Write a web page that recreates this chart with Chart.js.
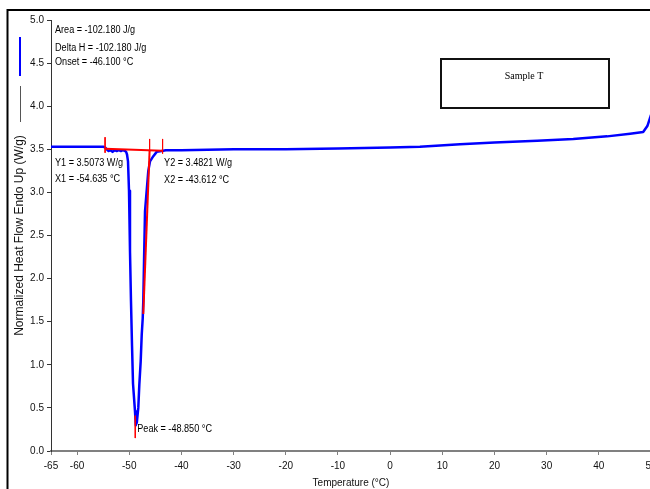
<!DOCTYPE html>
<html><head><meta charset="utf-8">
<script src="https://cdn.jsdelivr.net/npm/chart.js@4/dist/chart.umd.min.js"></script>
<style>
html,body{margin:0;padding:0;overflow:hidden;background:#fff;width:650px;height:489px}
#wrap{position:absolute;left:0;top:0;width:670px;height:489px}
</style></head>
<body><div id="wrap"><canvas id="c"></canvas></div>
<script>
// ---- data ----
const temps = [-65, -60, -56, -55, -54.6, -54.3, -54.0, -53.6, -53.2, -52.8, -52.4, -52.0, -51.6, -51.2, -50.8, -50.6, -50.43, -50.24, -50.05, -49.86, -49.67, -49.47, -49.28, -48.9, -48.75, -48.55, -48.27, -48.07, -47.81, -47.61, -47.42, -47.31, -47.17, -46.98, -46.35, -46.02, -45.39, -44.74, -43.78, -43.0, -40, -30, -20, -10, 0, 5.7, 13.4, 20, 28.2, 35.1, 41.6, 46, 48.5, 49.3, 49.8, 50];
const heatFlow = [3.53, 3.53, 3.53, 3.53, 3.52, 3.50, 3.48, 3.49, 3.47, 3.49, 3.48, 3.49, 3.48, 3.49, 3.48, 3.47, 3.44, 3.36, 3.02, 2.32, 1.74, 1.22, 0.78, 0.46, 0.30, 0.33, 0.50, 0.77, 1.04, 1.35, 1.54, 1.74, 2.20, 2.78, 3.25, 3.36, 3.42, 3.47, 3.48, 3.49, 3.49, 3.50, 3.50, 3.51, 3.52, 3.53, 3.56, 3.58, 3.60, 3.62, 3.65, 3.68, 3.70, 3.77, 3.86, 3.90];
const xTickValues = [-65, -60, -50, -40, -30, -20, -10, 0, 10, 20, 30, 40, 50];
const yTickValues = [0, 0.5, 1.0, 1.5, 2.0, 2.5, 3.0, 3.5, 4.0, 4.5, 5.0];
const X1 = -54.635, Y1 = 3.5073, X2 = -43.612, Y2 = 3.4821;
const onsetT = -46.100, peakT = -48.850;
const tangentT = [-46.1, -47.31];
const tangentV = [3.49, 1.59];
const markerX1V = [3.64, 3.46];
const markerX2V = [3.62, 3.45];
const markerOnsetV = [3.62, 3.48];
const markerPeakV = [0.41, 0.15];
const infoLines = ['Area = -102.180 J/g', 'Delta H = -102.180 J/g', 'Onset = -46.100 \u00B0C'];
const sampleLabel = 'Sample T';

const pts = (xs, ys) => xs.map((x, i) => ({x: x, y: ys[i]}));
const red = '#ff0000';
const FONT = '"Liberation Sans", Arial, sans-serif';

function narrowText(ctx, txt, x, y) {
  ctx.save();
  ctx.translate(x, y);
  ctx.scale(0.91, 1);
  ctx.fillText(txt, 0, 0);
  ctx.restore();
}

const decor = {
  id: 'decor',
  afterDraw(chart) {
    const ctx = chart.ctx, xs = chart.scales.x, ys = chart.scales.y;
    ctx.save();
    // outer frame
    ctx.strokeStyle = '#000'; ctx.lineWidth = 2;
    ctx.beginPath(); ctx.moveTo(7.5, 700); ctx.lineTo(7.5, 10); ctx.lineTo(700, 10); ctx.stroke();
    // legend marks
    ctx.strokeStyle = '#0000ff'; ctx.lineWidth = 2;
    ctx.beginPath(); ctx.moveTo(20, 37); ctx.lineTo(20, 76); ctx.stroke();
    ctx.strokeStyle = '#555'; ctx.lineWidth = 1;
    ctx.beginPath(); ctx.moveTo(20.5, 86); ctx.lineTo(20.5, 122); ctx.stroke();
    // texts
    ctx.fillStyle = '#000'; ctx.font = '10px ' + FONT; ctx.textBaseline = 'middle'; ctx.textAlign = 'left';
    const lx = xs.left + 4;
    narrowText(ctx, infoLines[0], lx, 30);
    narrowText(ctx, infoLines[1], lx, 48);
    narrowText(ctx, infoLines[2], lx, 62);
    narrowText(ctx, 'Y1 = ' + Y1.toFixed(4) + ' W/g', lx, 163);
    narrowText(ctx, 'X1 = ' + X1.toFixed(3) + ' \u00B0C', lx, 179);
    const x2p = xs.getPixelForValue(X2) + 1.5;
    narrowText(ctx, 'Y2 = ' + Y2.toFixed(4) + ' W/g', x2p, 163);
    narrowText(ctx, 'X2 = ' + X2.toFixed(3) + ' \u00B0C', x2p, 180);
    narrowText(ctx, 'Peak = ' + peakT.toFixed(3) + ' \u00B0C', xs.getPixelForValue(peakT) + 2, ys.getPixelForValue(0.25));
    // sample box
    ctx.strokeStyle = '#111'; ctx.lineWidth = 2;
    ctx.strokeRect(441, 59, 168, 49);
    ctx.font = '10px "Liberation Serif", "Times New Roman", serif'; ctx.textAlign = 'center';
    ctx.fillText(sampleLabel, 524, 76);
    ctx.restore();
  }
};

new Chart(document.getElementById('c'), {
  type: 'line',
  data: {
    datasets: [
      {data: pts(temps, heatFlow), borderColor: '#0000ff', borderWidth: 2.5, borderJoinStyle: 'round', pointRadius: 0, tension: 0, order: 2},
      {data: pts([X1, X2], [Y1, Y2]), borderColor: red, borderWidth: 2, pointRadius: 0, order: 1},
      {data: pts(tangentT, tangentV), borderColor: red, borderWidth: 2, pointRadius: 0, order: 1},
      {data: pts([X1, X1], markerX1V), borderColor: red, borderWidth: 1, pointRadius: 0, order: 1},
      {data: pts([X2, X2], markerX2V), borderColor: red, borderWidth: 1, pointRadius: 0, order: 1},
      {data: pts([onsetT, onsetT], markerOnsetV), borderColor: red, borderWidth: 1, pointRadius: 0, order: 1},
      {data: pts([peakT, peakT], markerPeakV), borderColor: red, borderWidth: 1, pointRadius: 0, order: 0}
    ]
  },
  options: {
    responsive: true, maintainAspectRatio: false, animation: false, devicePixelRatio: 1,
    layout: {padding: {left: 8, top: 20, right: 19, bottom: 0}},
    plugins: {legend: {display: false}, tooltip: {enabled: false}},
    scales: {
      x: {
        type: 'linear', min: -65, max: 50,
        afterBuildTicks: s => { s.ticks = xTickValues.map(v => ({value: v})); },
        afterFit: s => { s.height = 38; },
        ticks: {color: '#111', font: {family: FONT, size: 10}, padding: 5, maxRotation: 0, autoSkip: false},
        grid: {drawOnChartArea: false, drawTicks: true, tickLength: 4, color: '#808080'},
        border: {display: true, color: '#808080', width: 2},
        title: {display: true, text: 'Temperature (\u00B0C)', color: '#111', font: {family: FONT, size: 10}, padding: {top: 0, bottom: 0}}
      },
      y: {
        type: 'linear', min: 0, max: 5,
        afterBuildTicks: s => { s.ticks = yTickValues.map(v => ({value: v})); },
        afterFit: s => { s.width = 43; },
        ticks: {color: '#111', font: {family: FONT, size: 10}, padding: 3, callback: v => Number(v).toFixed(1)},
        grid: {drawOnChartArea: false, drawTicks: true, tickLength: 4, color: '#333'},
        border: {display: true, color: '#333', width: 1},
        title: {display: true, text: 'Normalized Heat Flow Endo Up (W/g)', color: '#111', font: {family: FONT, size: 12}, padding: {top: 4, bottom: 0}}
      }
    }
  },
  plugins: [decor]
});
</script>
</body></html>
